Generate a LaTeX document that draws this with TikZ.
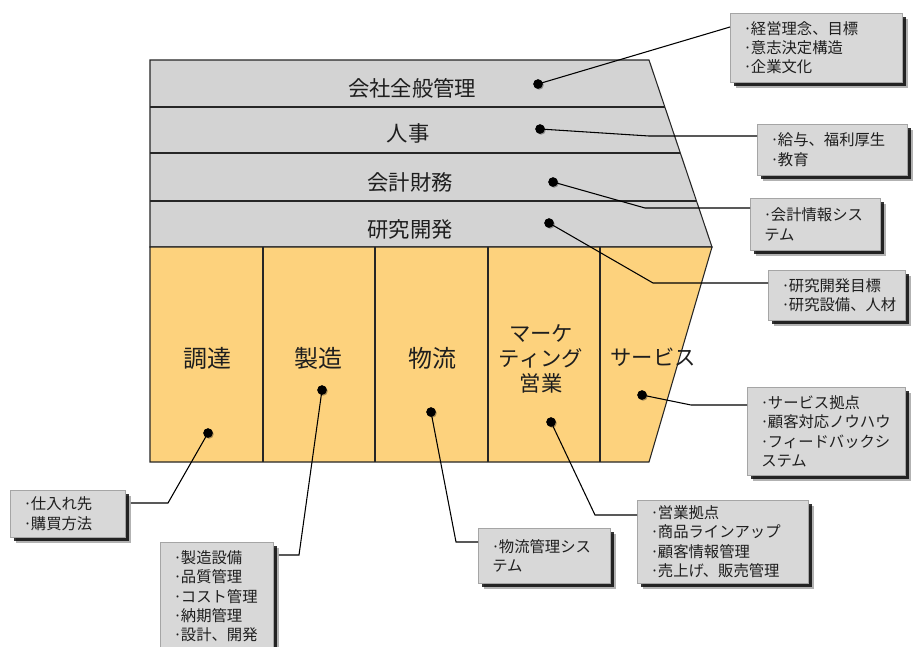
\documentclass[tikz,border=0pt]{standalone}
\usepackage{fontspec}
\setmainfont{Noto Sans CJK JP}
\usetikzlibrary{shadows}
\definecolor{rowgray}{RGB}{211,211,211}
\definecolor{colyel}{RGB}{253,210,125}
\definecolor{boxgray}{RGB}{216,216,216}
\definecolor{boxedge}{RGB}{165,165,165}
\definecolor{txt}{RGB}{30,30,30}
\newcommand\bul{\makebox[5pt][c]{·}}
\begin{document}
\begin{tikzpicture}[x=0.75pt,y=-0.75pt,
  outline/.style={draw=black!85,line width=0.8pt},
  dot/.style={circle,fill=black,inner sep=0pt,minimum size=7pt,
    drop shadow={shadow xshift=0.8pt,shadow yshift=-0.8pt,opacity=0.35,fill=black}},
  conn/.style={draw=black,line width=0.8pt},
  callout/.style={draw=boxedge,line width=0.4pt,fill=boxgray,anchor=north west,
    align=left,inner xsep=10.5pt,inner ysep=0pt,text=txt,
    font=\fontsize{11.5}{14.5}\selectfont,
    drop shadow={shadow xshift=4pt,shadow yshift=-4.5pt,opacity=0.3,fill=black},
    drop shadow={shadow xshift=2.6pt,shadow yshift=-3pt,opacity=0.8,fill=black}},
  rowtxt/.style={text=txt,font=\fontsize{16}{18}\selectfont},
  coltxt/.style={text=txt,font=\fontsize{18}{20}\selectfont},
  coltxtsm/.style={text=txt,align=center,font=\fontsize{16}{19}\selectfont}]
\useasboundingbox (0,0) rectangle (913,646);
\fill[white] (0,0) rectangle (913,646);
% main shape
\filldraw[outline,fill=rowgray] (150,60) -- (649,60) -- (712,247) -- (150,247) -- cycle;
\filldraw[outline,fill=colyel] (150,247) -- (712,247) -- (649,462) -- (150,462) -- cycle;
\draw[outline] (150,107) -- (664.8,107);
\draw[outline] (150,153) -- (680.3,153);
\draw[outline] (150,201) -- (696.5,201);
\foreach \x in {263,375,488,600} \draw[outline] (\x,247) -- (\x,462);
% labels
\node[rowtxt] (r1) at (412,88) {会社全般管理};
\node[rowtxt] (r2) at (408,133) {人事};
\node[rowtxt] (r3) at (410,182) {会計財務};
\node[rowtxt] (r4) at (410,229) {研究開発};
\node[coltxt] (c1) at (207,358) {調達};
\node[coltxt] (c2) at (318,358) {製造};
\node[coltxt] (c3) at (432,358) {物流};
\node[coltxtsm] (c4) at (541,359) {マーケ\\ティング\\営業};
\node[coltxtsm] (c5) at (653,357) {サービス};
% dots
\node[dot] (d1) at (538,84) {};
\node[dot] (d2) at (540,129) {};
\node[dot] (d3) at (553,182) {};
\node[dot] (d4) at (549,223) {};
\node[dot] (d5) at (642,395) {};
\node[dot] (d6) at (208,433) {};
\node[dot] (d7) at (322,390) {};
\node[dot] (d8) at (431,412) {};
\node[dot] (d9) at (551,422) {};
% bend coordinates
\coordinate (k1) at (730,27);
\coordinate (k2) at (649,136);
\coordinate (k3) at (645,208);
\coordinate (k4) at (653,283);
\coordinate (k5) at (691,405);
\coordinate (k6) at (168,503);
\coordinate (k7) at (299,555);
\coordinate (k8) at (456,542);
\coordinate (k9) at (595,515);
% callout boxes
\path (730,13) node[callout,text width=108pt,minimum height=51.75pt] (b1) {\bul 経営理念、目標\\\bul 意志決定構造\\\bul 企業文化};
\path (757,124) node[callout,text width=91.5pt,minimum height=38.25pt] (b2) {\bul 給与、福利厚生\\\bul 教育};
\path (750,198) node[callout,text width=76.5pt,minimum height=39pt] (b3) {\bul 会計情報シス\\テム};
\path (768,270) node[callout,text width=81.75pt,minimum height=37.5pt] (b4) {\bul 研究開発目標\\\bul 研究設備、人材};
\path (747,387) node[callout,text width=97.5pt,minimum height=66pt] (b5) {\bul サービス拠点\\\bul 顧客対応ノウハウ\\\bul フィードバックシ\\ステム};
\path (10,490) node[callout,text width=65.25pt,minimum height=35.25pt] (b6) {\bul 仕入れ先\\\bul 購買方法};
\path (160,542) node[callout,text width=63.75pt,minimum height=81pt] (b7) {\bul 製造設備\\\bul 品質管理\\\bul コスト管理\\\bul 納期管理\\\bul 設計、開発};
\path (478,528) node[callout,text width=78pt,minimum height=41.25pt] (b8) {\bul 物流管理シス\\テム};
\path (637,500) node[callout,text width=107.25pt,minimum height=62.25pt] (b9) {\bul 営業拠点\\\bul 商品ラインアップ\\\bul 顧客情報管理\\\bul 売上げ、販売管理};
% connectors
\draw[conn] (d1.center) -- (k1);
\draw[conn] (d2.center) -- (k2) -- (k2 -| b2.west);
\draw[conn] (d3.center) -- (k3) -- (k3 -| b3.west);
\draw[conn] (d4.center) -- (k4) -- (k4 -| b4.west);
\draw[conn] (d5.center) -- (k5) -- (k5 -| b5.west);
\draw[conn] (d6.center) -- (k6) -- ([xshift=4pt]k6 -| b6.east);
\draw[conn] (d7.center) -- (k7) -- ([xshift=4pt]k7 -| b7.east);
\draw[conn] (d8.center) -- (k8) -- (k8 -| b8.west);
\draw[conn] (d9.center) -- (k9) -- (k9 -| b9.west);
% dots on top of connectors
\foreach \d in {d1,d2,d3,d4,d5,d6,d7,d8,d9} \fill[black] (\d.center) circle (3.5pt);
\end{tikzpicture}
\end{document}
